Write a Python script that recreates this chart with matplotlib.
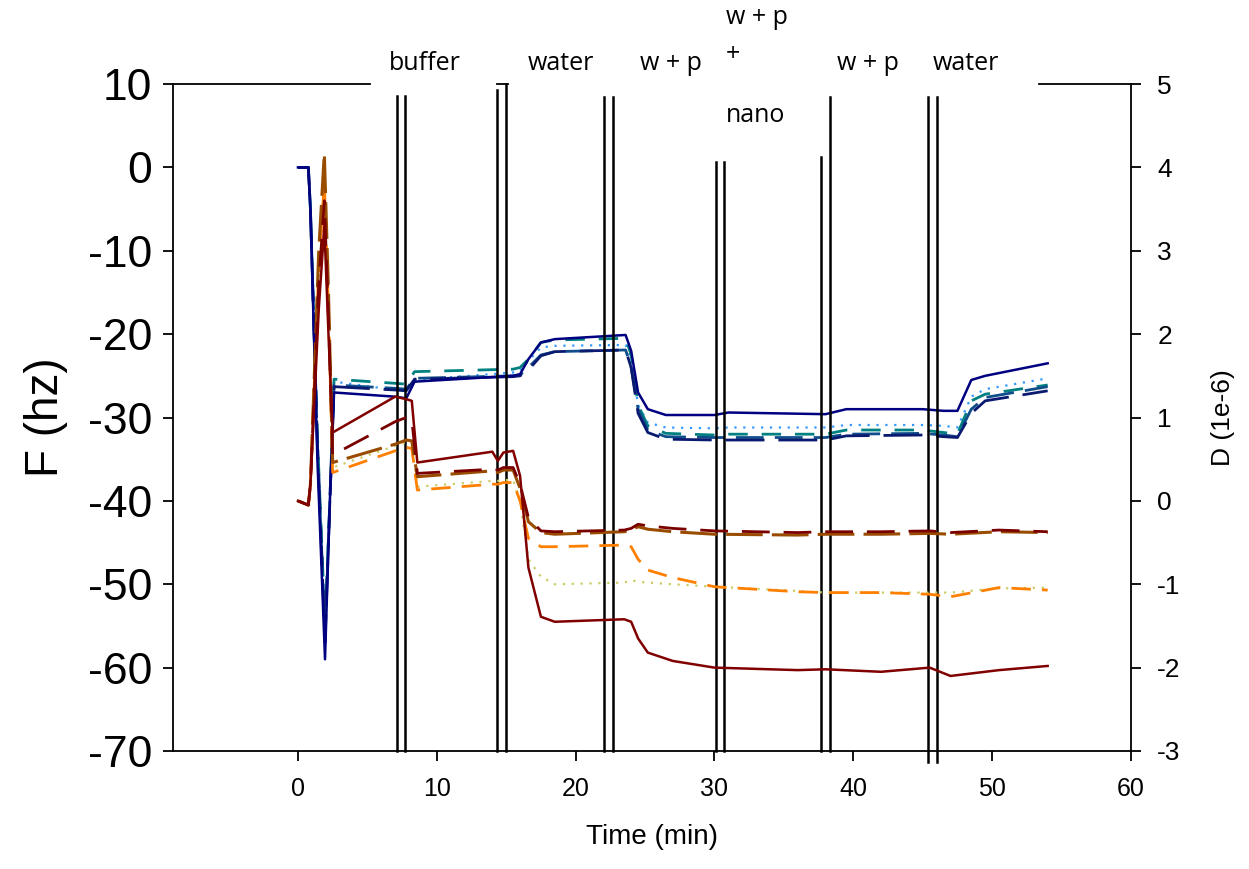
import numpy as np
import matplotlib
matplotlib.use("Agg")
import matplotlib.pyplot as plt

plt.rcParams['font.family'] = ['Liberation Sans', 'DejaVu Sans']
plt.rcParams['axes.unicode_minus'] = False

# frequency shifts (hz), left axis
t_f = [0, 0.75, 0.9, 1.4, 1.95, 2.3, 2.6, 7.0, 7.8, 8.4, 15.5, 16.0, 16.6, 17.5, 18.5,
       23.6, 24.0, 24.5, 25.2, 26.5, 30.0, 31.0, 38.0, 39.5, 45.0, 46.5, 47.5, 48.5, 49.5, 54.0]
f_navy = [0, 0, -5, -35, -59, -40, -27.0, -27.5, -27.7, -25.7, -25.0, -24.8, -23.0, -21.0, -20.6,
          -20.1, -22.0, -27.0, -29.0, -29.7, -29.7, -29.4, -29.6, -29.0, -29.0, -29.2, -29.2, -25.5, -25.0, -23.5]
f_navy_dash = [0, 0, -5, -33, -57, -40, -26.3, -26.7, -26.8, -25.4, -25.1, -25.0, -24.3, -22.6, -22.1,
               -21.9, -24.0, -29.5, -31.8, -32.6, -32.7, -32.7, -32.7, -32.2, -32.1, -32.3, -32.4, -29.5, -28.0, -26.8]
f_blue_dash = [0, 0, -5, -33, -56, -40, -26.1, -26.5, -26.6, -25.3, -25.0, -24.9, -24.0, -22.5, -22.1,
               -21.9, -24.0, -29.0, -31.5, -32.3, -32.4, -32.4, -32.4, -32.0, -31.9, -32.1, -32.3, -29.0, -27.6, -26.3]
f_teal = [0, 0, -5, -32, -55, -40, -25.4, -25.9, -26.0, -24.5, -24.2, -24.0, -23.0, -21.0, -20.7,
          -20.5, -22.5, -28.5, -31.0, -31.9, -32.1, -32.0, -32.0, -31.5, -31.5, -31.8, -32.0, -28.0, -27.2, -26.1]
f_light = [0, 0, -5, -32, -55, -40, -25.7, -26.7, -26.8, -25.5, -24.6, -24.4, -23.2, -21.6, -21.4,
           -21.3, -23.0, -28.5, -30.6, -31.2, -31.3, -31.2, -31.2, -30.9, -30.9, -31.0, -31.2, -27.5, -26.6, -25.3]

# dissipation (1e-6), right axis
t_d = [0, 0.75, 0.9, 1.5, 1.9, 2.2, 2.5, 7.0, 7.8, 8.2, 8.6, 14.0, 14.4, 14.8, 15.5, 16.0, 16.6,
       17.5, 18.5, 23.5, 24.0, 24.5, 25.2, 27.0, 30.0, 36.0, 38.0, 42.0, 45.5, 47.0, 50.5, 54.0]
d_red = [0, -0.05, 0.2, 2.3, 3.3, 2.0, 0.82, 1.25, 1.22, 1.2, 0.46, 0.59, 0.48, 0.58, 0.6, 0.3, -0.8,
         -1.39, -1.45, -1.42, -1.45, -1.65, -1.82, -1.92, -2.0, -2.03, -2.02, -2.05, -2.0, -2.1, -2.03, -1.98]
d_red_dash = [0, -0.05, 0.2, 2.6, 3.6, 2.2, 0.55, 0.95, 1.0, 0.98, 0.33, 0.38, 0.37, 0.4, 0.4, 0.2, -0.2,
              -0.36, -0.37, -0.35, -0.33, -0.28, -0.3, -0.33, -0.36, -0.38, -0.37, -0.37, -0.36, -0.38, -0.35, -0.37]
d_brown = [0, -0.05, 0.2, 3.0, 4.17, 2.5, 0.46, 0.68, 0.73, 0.72, 0.29, 0.36, 0.34, 0.37, 0.37, 0.15, -0.25,
           -0.38, -0.4, -0.37, -0.35, -0.31, -0.34, -0.37, -0.4, -0.41, -0.4, -0.4, -0.39, -0.4, -0.37, -0.38]
d_orange = [0, -0.05, 0.2, 2.8, 3.82, 2.3, 0.34, 0.6, 0.64, 0.63, 0.13, 0.2, 0.2, 0.22, 0.22, 0.0, -0.45,
            -0.55, -0.55, -0.53, -0.55, -0.7, -0.83, -0.92, -1.03, -1.09, -1.1, -1.1, -1.12, -1.15, -1.04, -1.07]
d_yellow = [0, -0.05, 0.2, 2.5, 3.5, 2.0, 0.4, 0.66, 0.7, 0.69, 0.17, 0.24, 0.24, 0.25, 0.25, 0.0, -0.7,
            -0.91, -1.0, -0.98, -0.95, -0.97, -0.98, -1.0, -1.03, -1.08, -1.1, -1.1, -1.1, -1.1, -1.05, -1.04]

# injection markers: time, top (hz), bottom (hz)
mark_t = [7.11, 7.71, 14.35, 15.0, 22.08, 22.69, 30.1, 30.7, 37.7, 38.3, 45.4, 46.0]
mark_top = [8.6, 8.6, 9.3, 10.0, 8.5, 8.5, 0.65, 0.65, 1.25, 8.5, 8.5, 8.5]
mark_bot = [-70, -70, -70, -70, -70, -70, -70, -70, -70, -70, -71.3, -71.3]

fig = plt.figure(figsize=(12.49, 8.69), dpi=100)
ax = fig.add_axes([0.1385, 0.1358, 0.767, 0.7675])
ax2 = ax.twinx()

ax.plot(t_f, f_light, color='#3399FF', lw=1.6, ls=(0, (1, 3)))
ax.plot(t_f, f_teal, color='#008080', lw=2.0, ls=(0, (7, 5)))
ax.plot(t_f, f_blue_dash, color='#104E8B', lw=2.0, ls=(0, (10, 4)))
ax.plot(t_f, f_navy_dash, color='#0A1A70', lw=2.0, ls=(0, (14, 5)))
ax.plot(t_f, f_navy, color='#000080', lw=1.8)

ax2.plot(t_d, d_yellow, color='#CCCC66', lw=1.6, ls=(0, (1, 3)))
ax2.plot(t_d, d_orange, color='#FF8000', lw=2.0, ls=(0, (7, 4)))
ax2.plot(t_d, d_brown, color='#994C00', lw=2.2, ls=(0, (12, 3)))
ax2.plot(t_d, d_red_dash, color='#7A0000', lw=2.0, ls=(0, (10, 5)))
ax2.plot(t_d, d_red, color='#800000', lw=1.8)

for x, top, bot in zip(mark_t, mark_top, mark_bot):
    ax.plot([x, x], [bot, top], color='black', lw=1.8, clip_on=False, zorder=5)

# broken top frame
for x0, x1 in [(-9, 5.2), (14.35, 15.1), (53.35, 60)]:
    ax.plot([x0, x1], [10, 10], color='black', lw=1.3, clip_on=False, zorder=5)

ax.set_xlim(-9, 60)
ax.set_ylim(-70, 10)
ax2.set_ylim(-3, 5)
ax.set_xticks([0, 10, 20, 30, 40, 50, 60])
ax.set_yticks(np.arange(-70, 11, 10))
ax2.set_yticks(np.arange(-3, 6, 1))

for a in (ax, ax2):
    a.spines['top'].set_visible(False)
    for s in a.spines.values():
        s.set_linewidth(1.3)
ax.spines['right'].set_visible(False)
ax2.spines['left'].set_visible(False)
ax2.spines['bottom'].set_visible(False)

ax.tick_params(axis='y', direction='out', length=7, width=1.3, labelsize=32, pad=8)
ax.tick_params(axis='x', direction='out', length=7, width=1.3, labelsize=18, pad=12)
ax2.tick_params(axis='y', direction='out', length=7, width=1.3, labelsize=19, pad=12)

ax.set_xlabel('Time (min)', fontsize=20, labelpad=16)
ax.set_ylabel('F (hz)', fontsize=33, labelpad=14)
ax2.set_ylabel('D (1e-6)', fontsize=19, labelpad=22)

lab_font = dict(family=['Open Sans', 'DejaVu Sans'], fontsize=18)
W, H = 1249, 869
for txt, px, py in [('buffer', 425, 63), ('water', 561, 63), ('w + p', 671, 63),
                    ('w + p', 868, 63), ('water', 966, 63)]:
    fig.text(px / W, 1 - py / H, txt, ha='center', va='center', **lab_font)
for txt, py in [('w + p', 18), ('+', 55), ('nano', 115)]:
    fig.text(726 / W, 1 - py / H, txt, ha='left', va='center', **lab_font)

fig.savefig('out.png', dpi=100)
